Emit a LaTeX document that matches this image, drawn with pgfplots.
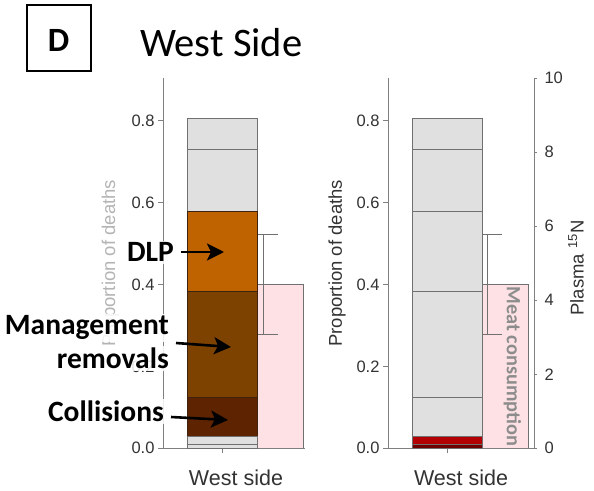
\documentclass[border=0pt]{standalone}
\usepackage{pgfplots}
\pgfplotsset{compat=1.18}
\usepackage{fontspec}
\setmainfont{Liberation Sans}
\newfontfamily\calfont{Carlito}
\usetikzlibrary{arrows.meta}

\definecolor{gfill}{HTML}{E0E0E0}
\definecolor{gedge}{HTML}{707070}
\definecolor{bedge}{HTML}{3E2410}
\definecolor{coll}{HTML}{5E2300}
\definecolor{mgmt}{HTML}{7D4200}
\definecolor{dlp}{HTML}{BF6300}
\definecolor{dred}{HTML}{6E0000}
\definecolor{redb}{HTML}{B30000}
\definecolor{pinkf}{HTML}{FDE1E4}
\definecolor{axg}{HTML}{808080}
\definecolor{tickt}{HTML}{333333}
\definecolor{lightg}{HTML}{B4B4B4}
\definecolor{meatg}{HTML}{8C8C8C}

\pgfplotsset{
  panel/.style={
    scale only axis, height=370pt, anchor=south west,
    xmin=0, ymin=0, ymax=0.9035,
    axis x line*=bottom, axis y line*=left,
    axis line style={axg, line width=0.8pt, -},
    tick style={axg, line width=0.8pt},
    tick align=outside, major tick length=5pt,
    xtick={59.3}, xticklabels={},
    ytick={0,0.2,0.4,0.6,0.8},
    /pgf/number format/assume math mode=true,
    yticklabel style={/pgf/number format/fixed, /pgf/number format/fixed zerofill, /pgf/number format/precision=1},
    tick label style={font=\fontsize{16.5}{18}\selectfont, color=tickt},
    ybar stacked, bar width=70,
    label style={font=\fontsize{18.5}{20}\selectfont, color=tickt},
    xlabel={West side},
    xlabel style={font=\fontsize{21.5}{24}\selectfont, anchor=base, inner sep=0pt, yshift=-36.7pt},
    ylabel={Proportion of deaths},
  },
  overlay/.style={
    scale only axis, height=370pt, anchor=south west,
    xmin=0, ymin=0, ymax=10,
  }
}

\begin{document}
\begin{tikzpicture}
\path[fill=white] (0pt,0pt) rectangle (594pt,490pt);

% ---------- left panel ----------
\begin{axis}[overlay, at={(163pt,41.7pt)}, width=142pt, xmax=142, hide axis]
  \addplot[ybar, bar width=46, fill=pinkf, draw=gedge, line width=0.7pt] coordinates {(117,4.43)};
  \addplot[gedge, line width=0.8pt] coordinates {(100,3.08) (100,5.79)};
  \addplot[gedge, line width=0.8pt] coordinates {(94,5.79) (115,5.79)};
  \addplot[gedge, line width=0.8pt] coordinates {(94,3.08) (115,3.08)};
\end{axis}
\begin{axis}[panel, at={(163pt,41.7pt)}, width=142pt, xmax=142,
  xlabel style={at={(axis description cs:0.514,0)}},
  ylabel style={color=lightg, at={(axis description cs:-0.37,0.5)}, anchor=center}]
  \addplot[fill=gfill, draw=gedge, line width=0.6pt] coordinates {(59.3,0.010)};
  \addplot[fill=gfill, draw=gedge, line width=0.6pt] coordinates {(59.3,0.020)};
  \addplot[fill=coll, draw=bedge, line width=0.6pt] coordinates {(59.3,0.095)};
  \addplot[fill=mgmt, draw=bedge, line width=0.6pt] coordinates {(59.3,0.259)};
  \addplot[fill=dlp, draw=bedge, line width=0.6pt] coordinates {(59.3,0.194)};
  \addplot[fill=gfill, draw=gedge, line width=0.6pt] coordinates {(59.3,0.152)};
  \addplot[fill=gfill, draw=gedge, line width=0.6pt] coordinates {(59.3,0.075)};
\end{axis}

% ---------- right panel ----------
\begin{axis}[overlay, at={(388pt,41.7pt)}, width=146pt, xmax=146,
  axis y line*=right, axis x line=none,
  axis line style={axg, line width=0.8pt, -},
  tick style={axg, line width=0.8pt},
  tick align=outside, major tick length=3pt,
  ytick={0,2,4,6,8,10},
  /pgf/number format/assume math mode=true,
  yticklabel style={font=\fontsize{16.5}{18}\selectfont, color=tickt, xshift=4pt}]
  \addplot[ybar, bar width=46, fill=pinkf, draw=gedge, line width=0.7pt] coordinates {(117,4.43)};
  \addplot[gedge, line width=0.8pt] coordinates {(99.3,3.08) (99.3,5.79)};
  \addplot[gedge, line width=0.8pt] coordinates {(94.7,5.79) (113.7,5.79)};
  \addplot[gedge, line width=0.8pt] coordinates {(94.7,3.08) (113.7,3.08)};
  \node[rotate=-90, anchor=west, inner sep=0pt, color=meatg,
        font=\calfont\bfseries\fontsize{20.3}{24}\selectfont] at (axis cs:124.5,4.38) {Meat consumption};
\end{axis}
\begin{axis}[panel, at={(388pt,41.7pt)}, width=146pt, xmax=146,
  xlabel style={at={(axis description cs:0.5,0)}},
  ylabel style={at={(axis description cs:-0.349,0.5)}, anchor=center}]
  \addplot[fill=dred, draw=gedge, line width=0.6pt] coordinates {(59,0.010)};
  \addplot[fill=redb, draw=gedge, line width=0.6pt] coordinates {(59,0.020)};
  \addplot[fill=gfill, draw=gedge, line width=0.6pt] coordinates {(59,0.095)};
  \addplot[fill=gfill, draw=gedge, line width=0.6pt] coordinates {(59,0.259)};
  \addplot[fill=gfill, draw=gedge, line width=0.6pt] coordinates {(59,0.194)};
  \addplot[fill=gfill, draw=gedge, line width=0.6pt] coordinates {(59,0.152)};
  \addplot[fill=gfill, draw=gedge, line width=0.6pt] coordinates {(59,0.075)};
\end{axis}

\node[rotate=90, color=tickt, font=\fontsize{18.5}{20}\selectfont] at (576pt,222pt) {Plasma \textsuperscript{15}N};

% ---------- title and panel letter ----------
\draw[line width=2pt] (26.7pt,485pt) rectangle (90.7pt,419.3pt);
\node[font=\calfont\bfseries\fontsize{34}{40}\selectfont, inner sep=0pt] at (58.5pt,449.5pt) {D};
\node[anchor=base west, inner sep=0pt, font=\calfont\fontsize{40.5}{48}\selectfont] at (140pt,433pt) {West Side};

% ---------- annotations ----------
\tikzset{ann/.style={anchor=base east, inner sep=2pt, fill=white, fill opacity=0.85, text opacity=1,
  font=\calfont\bfseries\fontsize{29.5}{34}\selectfont}}
\node[ann] at (176pt,228.3pt) {DLP};
\node[ann] at (171pt,155pt) {Management};
\node[ann] at (171pt,121.7pt) {removals};
\node[ann] at (166pt,68.3pt) {Collisions};
\tikzset{arr/.style={line width=2.6pt, -{Stealth[length=17pt, width=17pt, inset=4pt]}}}
\draw[arr] (181pt,238pt) -- (224pt,238pt);
\draw[arr] (176pt,147pt) -- (231pt,143pt);
\draw[arr] (171pt,73pt) -- (228pt,70pt);
\end{tikzpicture}
\end{document}
